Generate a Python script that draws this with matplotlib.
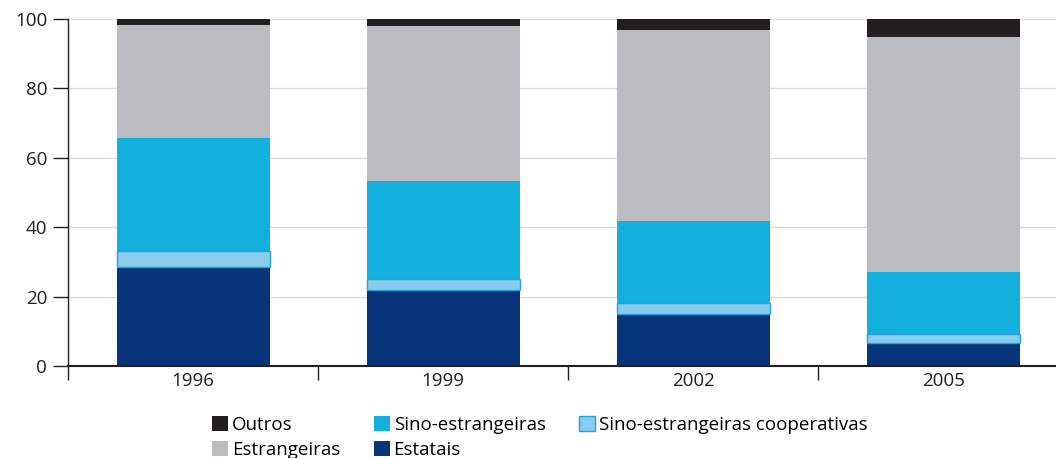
import numpy as np
import matplotlib.pyplot as plt
from matplotlib.patches import Patch

plt.rcParams['font.family'] = ['Open Sans', 'DejaVu Sans']

# dados (%), leitura do gráfico
anos = ['1996', '1999', '2002', '2005']
estatais = [28.5, 21.9, 15.0, 6.5]
cooperativas = [4.6, 3.2, 3.2, 2.6]
sino_estrangeiras = [32.6, 28.2, 23.6, 18.1]
estrangeiras = [32.6, 44.7, 55.0, 67.7]
outros = [1.7, 2.0, 3.2, 5.1]

cores = {
    'Estatais': '#08357a',
    'Sino-estrangeiras cooperativas': '#86cdee',
    'Sino-estrangeiras': '#13b0de',
    'Estrangeiras': '#bbbcc0',
    'Outros': '#231f20',
}

fig = plt.figure(figsize=(10.56, 4.58), dpi=100)
ax = fig.add_axes([0.0644, 0.2009, 0.9356, 0.7576])

x = np.arange(len(anos))
w = 0.612
base = np.zeros(len(anos))
series = [('Estatais', estatais), ('Sino-estrangeiras cooperativas', cooperativas),
          ('Sino-estrangeiras', sino_estrangeiras), ('Estrangeiras', estrangeiras),
          ('Outros', outros)]
for nome, vals in series:
    vals = np.array(vals)
    if nome == 'Sino-estrangeiras cooperativas':
        ax.bar(x, vals, w, bottom=base, color=cores[nome], edgecolor='#2a9fd8',
               linewidth=1.0, zorder=3)
    else:
        ax.bar(x, vals, w, bottom=base, color=cores[nome], linewidth=0, zorder=2)
    base += vals

ax.set_xlim(-0.5, 3.45)
ax.set_ylim(0, 100)
ax.set_yticks([0, 20, 40, 60, 80, 100])
ax.yaxis.grid(True, color='#dcdcdc', linewidth=1.0, zorder=0)
ax.set_axisbelow(True)

ax.set_xticks(x)
ax.set_xticklabels(anos)
ax.set_xticks([-0.5, 0.5, 1.5, 2.5], minor=True)
ax.tick_params(axis='x', which='major', length=0, pad=4, labelsize=13.5, colors='#231f20')
ax.tick_params(axis='x', which='minor', length=10, width=1.0, direction='out', color='#231f20')
ax.tick_params(axis='y', length=11, width=1.0, labelsize=13.5, colors='#231f20', pad=4)

for s in ['top', 'right']:
    ax.spines[s].set_visible(False)
ax.spines['left'].set_color('#231f20')
ax.spines['left'].set_linewidth(1.0)
ax.spines['bottom'].set_color('#231f20')
ax.spines['bottom'].set_linewidth(1.5)

# legenda (preenchida por colunas)
ordem = ['Outros', 'Estrangeiras', 'Sino-estrangeiras', 'Estatais', 'Sino-estrangeiras cooperativas']
handles = []
for nome in ordem:
    if nome == 'Sino-estrangeiras cooperativas':
        handles.append(Patch(facecolor=cores[nome], edgecolor='#2a9fd8', linewidth=1.0, label=nome))
    else:
        handles.append(Patch(facecolor=cores[nome], linewidth=0, label=nome))
fig.legend(handles=handles, ncol=3, loc='lower left', bbox_to_anchor=(0.185, -0.04),
           frameon=False, fontsize=13.5, handlelength=0.85, handleheight=0.85,
           handletextpad=0.2, columnspacing=1.8, labelspacing=0.42)

fig.savefig('out.png', dpi=100)
